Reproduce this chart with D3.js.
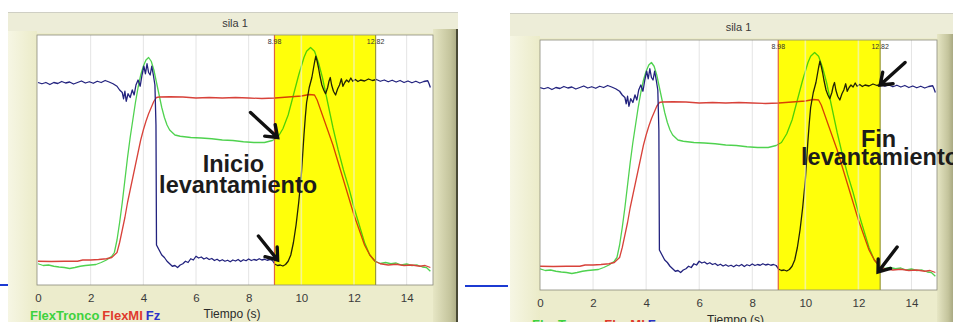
<!DOCTYPE html>
<html lang="es">
<head>
<meta charset="UTF-8">
<title>sila 1</title>
<script src="https://d3js.org/d3.v7.min.js"></script>
<style>
  * { margin: 0; padding: 0; }
  body { background: #fff; width: 953px; height: 322px; overflow: hidden; }
  svg { display: block; }
</style>
</head>
<body>
<svg id="chart" width="953" height="322"></svg>
<script>
// time (s) and signal values (0-100, share of the plot height)
var timeFz = [0, 0.15, 0.3, 0.45, 0.6, 0.75, 0.9, 1.05, 1.2, 1.35, 1.5, 1.65, 1.8, 1.95, 2.1, 2.25, 2.4, 2.55, 2.7, 2.85,
  3.0, 3.1, 3.2, 3.25, 3.3, 3.35, 3.42, 3.5, 3.58, 3.65, 3.72, 3.8, 3.88, 3.95, 4.02, 4.08, 4.14, 4.2, 4.26, 4.32, 4.38, 4.44, 4.48,
  4.5, 4.6, 4.7, 4.8, 4.9, 5.0, 5.1, 5.2, 5.3, 5.4, 5.5, 5.6, 5.7, 5.8, 5.9, 6.0, 6.1, 6.2, 6.3, 6.4, 6.5, 6.6, 6.7, 6.8, 6.9,
  7.0, 7.1, 7.2, 7.3, 7.4, 7.5, 7.6, 7.7, 7.8, 7.9, 8.0, 8.1, 8.2, 8.3, 8.4, 8.5, 8.6, 8.7, 8.8, 8.9, 9.0, 9.1, 9.2, 9.3, 9.4,
  9.5, 9.6, 9.7, 9.8, 9.9, 10.0, 10.05, 10.1, 10.15, 10.2, 10.3, 10.4, 10.45, 10.5, 10.55, 10.6, 10.65, 10.7, 10.78, 10.85, 10.92,
  11.0, 11.05, 11.1, 11.15, 11.22, 11.3, 11.38, 11.45, 11.52, 11.58, 11.65, 11.72, 11.8, 11.88, 11.95, 12.05, 12.15, 12.25, 12.4,
  12.55, 12.7, 12.85, 13.0, 13.15, 13.3, 13.45, 13.6, 13.75, 13.9, 14.05, 14.2, 14.35, 14.5, 14.65, 14.8, 14.85, 14.9];
var fz = [81, 80.5, 81, 80.2, 81, 80.6, 81.4, 80.8, 81.2, 80.4, 81, 81.6, 80.8, 81.3, 80.7, 81.5, 81, 81.8, 81.2, 80.5,
  79.5, 78, 77, 74.5, 77.5, 73.5, 76.5, 75, 78, 76, 80, 82, 79.5, 84, 87.5, 84.5, 88.5, 85, 84, 87.5, 84, 80, 64,
  16, 14, 12, 11, 9.5, 8.5, 7.5, 7.8, 7, 8, 8.5, 9.5, 9, 10.5, 10, 11.5, 10.8, 11.2, 10.4, 10.9, 10.2, 10.6, 9.8, 10.3, 9.6,
  10.1, 9.5, 9.9, 9.3, 10, 9.6, 10.2, 9.4, 10.1, 9.7, 10.4, 9.8, 10.2, 9.9, 10.5, 10, 10.3, 9.9, 10.2, 9.8, 8.3, 7.8, 8, 7.6, 8.2,
  9.5, 12, 17, 24, 33, 44, 52, 60, 67, 73, 79, 83, 86, 89, 91.5, 89.5, 87, 84, 80, 78, 76.5,
  79, 81.5, 83, 80, 77.5, 76, 78.5, 80, 82.5, 79.5, 81, 82, 81.2, 82.8, 81.5, 82.2, 81.4, 82, 81.6,
  82.4, 81.8, 82.2, 81.5, 82, 81.3, 81.9, 81.2, 81.8, 81, 81.6, 80.9, 81.5, 80.8, 81.4, 81.7, 80.5, 79];

var timeFlexMI = [0, 0.5, 1.0, 1.5, 1.7, 2.0, 2.3, 2.6, 2.8, 3.0, 3.1, 3.2, 3.3, 3.4, 3.5, 3.6, 3.7, 3.8, 3.9, 4.0, 4.1, 4.2, 4.3, 4.4,
  4.5, 4.6, 5.0, 5.5, 6.0, 6.5, 7.0, 7.5, 8.0, 8.5, 9.0, 9.5, 10.0, 10.3, 10.5, 10.6, 10.7, 10.8, 10.9, 11.0, 11.2, 11.4, 11.6,
  11.8, 12.0, 12.2, 12.4, 12.6, 12.8, 13.0, 13.3, 13.6, 13.9, 14.2, 14.5, 14.7, 14.9];
var flexMI = [9.5, 9.4, 9.5, 9.5, 10, 10, 10.2, 10.5, 11, 13, 17, 22, 27, 33, 38, 43, 48, 53, 58, 62, 65.5, 68.5, 71, 73.5,
  75, 75.2, 75.3, 75.2, 74.8, 75, 74.8, 75, 74.8, 74.6, 74.8, 75.2, 75.6, 76.2, 76, 74, 71, 68, 65, 62, 56, 49, 42,
  35, 28, 22, 16, 12, 9.5, 8.5, 8, 8.3, 7.8, 8, 7.5, 7.8, 7];

var timeFlexTronco = [0, 0.2, 0.4, 0.6, 0.8, 1.0, 1.2, 1.4, 1.6, 1.8, 2.0, 2.2, 2.4, 2.6, 2.8, 2.9, 3.0, 3.1, 3.2, 3.3, 3.4, 3.5,
  3.6, 3.7, 3.8, 3.9, 4.0, 4.1, 4.2, 4.3, 4.4, 4.5, 4.6, 4.7, 4.8, 4.9, 5.0, 5.2, 5.4, 5.8, 6.2, 6.6, 7.0, 7.4, 7.8, 8.2, 8.6,
  8.9, 9.1, 9.3, 9.5, 9.7, 9.9, 10.1, 10.2, 10.35, 10.5, 10.65, 10.8, 11.0, 11.2, 11.4, 11.6, 11.8, 12.0, 12.2, 12.4, 12.6,
  12.8, 13.0, 13.2, 13.4, 13.6, 13.8, 14.0, 14.2, 14.4, 14.6, 14.75, 14.9];
var flexTronco = [8.5, 7.8, 8, 7.5, 7.2, 7, 6.6, 7, 7.5, 7.8, 8, 8.2, 9, 10, 11.5, 13, 18, 25, 33, 42, 51, 59,
  66, 73, 79, 84, 87.5, 90, 91, 89.5, 86, 81, 76, 71, 67, 64, 62, 60, 59.5, 59, 58.8, 58.5, 58, 57.8, 57.3, 57, 57,
  57.8, 59, 62.5, 68, 76, 84, 91, 93.5, 95, 93.5, 89, 83, 73, 63, 54, 46, 39, 31, 24, 17, 12,
  9.5, 8.6, 9, 8.5, 8.8, 8, 8.4, 7.8, 8, 7.2, 7, 5.5];

var xTicks = [0, 2, 4, 6, 8, 10, 12, 14];
var gridTicks = [2, 4, 6, 8, 10, 12, 14];
var bandStart = 8.98;
var bandEnd = 12.82;
var bandLabels = ['8.98', '12.82'];
var seriesNames = ['FlexTronco', 'FlexMI', 'Fz'];

var COLORS = { FlexTronco: '#4fd24f', FlexMI: '#d8423a', Fz: '#22227e' };
var LEGEND_COLORS = { FlexTronco: '#3ed23e', FlexMI: '#e03a2c', Fz: '#2a32c8' };

var series = [
  { name: 'FlexTronco', t: timeFlexTronco, v: flexTronco },
  { name: 'FlexMI', t: timeFlexMI, v: flexMI },
  { name: 'Fz', t: timeFz, v: fz }
];

// two screenshots of the same recording, side by side
var panels = [
  { fx: 8, fy: 12, fw: 450, fh: 320, px0: 37, px1: 433, py0: 35, py1: 285, xr: [38, 433],
    titleY: 27, tickY: 303, axisTitleY: 318, legendX: 30, legendY: 320, darkEdge: true,
    arrows: [[8.07, 69, 9.1, 59], [8.37, 19.6, 9.1, 10]],
    notes: [{ text: 'Inicio', t: 7.42, v: 45.2, anchor: 'middle' },
            { text: 'levantamiento', t: 7.6, v: 36.8, anchor: 'middle' }] },
  { fx: 510, fy: 13, fw: 470, fh: 320, px0: 540, px1: 937, py0: 40, py1: 290, xr: [540, 938],
    titleY: 31, tickY: 308, axisTitleY: 324, legendX: 532, legendY: 329, darkEdge: false,
    arrows: [[13.76, 91, 12.82, 82], [13.46, 17.2, 12.74, 7.2]],
    notes: [{ text: 'Fin', t: 12.76, v: 57.2, anchor: 'middle' },
            { text: 'levantamiento', t: 9.84, v: 50.2, anchor: 'start' }] }
];

var svg = d3.select('#chart');
var defs = svg.append('defs');

var bevel = defs.append('linearGradient').attr('id', 'bevel').attr('x1', 0).attr('x2', 1).attr('y1', 0).attr('y2', 0);
bevel.append('stop').attr('offset', '0%').attr('stop-color', '#e6e6c4');
bevel.append('stop').attr('offset', '70%').attr('stop-color', '#c4c49c');
bevel.append('stop').attr('offset', '100%').attr('stop-color', '#a9a982');

var leftEdge = defs.append('linearGradient').attr('id', 'leftEdge').attr('x1', 0).attr('x2', 1).attr('y1', 0).attr('y2', 0);
leftEdge.append('stop').attr('offset', '0%').attr('stop-color', '#f6f6e4');
leftEdge.append('stop').attr('offset', '100%').attr('stop-color', '#ebebc8');

// slide underline bits between the screenshots
svg.append('line').attr('x1', 0).attr('x2', 13).attr('y1', 285).attr('y2', 285)
  .attr('stroke', '#1c3ad2').attr('stroke-width', 2);
svg.append('line').attr('x1', 465).attr('x2', 508).attr('y1', 286).attr('y2', 286)
  .attr('stroke', '#1c3ad2').attr('stroke-width', 2);

function drawArrow(g, tx, ty, hx, hy) {
  var a = Math.atan2(ty - hy, tx - hx);
  var len = 13, spread = 0.64;
  var b1 = [hx + len * Math.cos(a + spread), hy + len * Math.sin(a + spread)];
  var b2 = [hx + len * Math.cos(a - spread), hy + len * Math.sin(a - spread)];
  g.append('path')
    .attr('d', 'M' + tx + ',' + ty + 'L' + hx + ',' + hy + 'M' + b1[0] + ',' + b1[1] + 'L' + hx + ',' + hy + 'L' + b2[0] + ',' + b2[1])
    .attr('fill', 'none').attr('stroke', '#111').attr('stroke-width', 3.4)
    .attr('stroke-linejoin', 'miter').attr('stroke-linecap', 'round');
}

panels.forEach(function(p, i) {
  var g = svg.append('g');
  var x = d3.scaleLinear().domain([0, 15]).range(p.xr);
  var y = d3.scaleLinear().domain([0, 100]).range([p.py1, p.py0]);

  // window frame
  g.append('rect').attr('x', p.fx).attr('y', p.fy).attr('width', p.fw).attr('height', p.fh).attr('fill', '#ececcc');
  g.append('rect').attr('x', p.fx).attr('y', p.fy).attr('width', p.fw).attr('height', p.py0 - p.fy - 2).attr('fill', '#ededd8');
  g.append('line').attr('x1', p.fx).attr('x2', p.fx + p.fw).attr('y1', p.fy + 0.5).attr('y2', p.fy + 0.5)
    .attr('stroke', '#cfcfc4').attr('stroke-width', 1);
  g.append('rect').attr('x', p.fx).attr('y', p.py0 - 4).attr('width', p.px0 - p.fx).attr('height', p.fh).attr('fill', 'url(#leftEdge)');
  var bevelRight = p.darkEdge ? p.fx + p.fw : 953;
  g.append('rect').attr('x', p.px1).attr('y', p.py0 - 6).attr('width', bevelRight - p.px1).attr('height', p.fh)
    .attr('fill', 'url(#bevel)');
  if (p.darkEdge) {
    g.append('line').attr('x1', p.fx + p.fw - 1).attr('x2', p.fx + p.fw - 1).attr('y1', p.py0 - 6).attr('y2', 322)
      .attr('stroke', '#4a4a36').attr('stroke-width', 2);
  }

  // title
  g.append('text').attr('x', (p.px0 + p.px1) / 2).attr('y', p.titleY).attr('text-anchor', 'middle')
    .attr('font-family', 'Liberation Sans, Arial, sans-serif').attr('font-size', 11).attr('fill', '#3a3a3a')
    .text('sila 1');

  // plot area
  var clipId = 'clip' + i;
  defs.append('clipPath').attr('id', clipId).append('rect')
    .attr('x', p.px0).attr('y', p.py0).attr('width', p.px1 - p.px0).attr('height', p.py1 - p.py0);
  g.append('rect').attr('x', p.px0).attr('y', p.py0).attr('width', p.px1 - p.px0).attr('height', p.py1 - p.py0)
    .attr('fill', '#fff');

  var plot = g.append('g').attr('clip-path', 'url(#' + clipId + ')');

  plot.selectAll('line.grid').data(gridTicks).join('line').attr('class', 'grid')
    .attr('x1', function(d) { return x(d); }).attr('x2', function(d) { return x(d); })
    .attr('y1', p.py0).attr('y2', p.py1)
    .attr('stroke', '#e4e4e4').attr('stroke-width', 1);

  var line = d3.line().x(function(d) { return x(d[0]); }).y(function(d) { return y(d[1]); });
  series.forEach(function(s) {
    var pts = s.t.map(function(t, k) { return [t, s.v[k]]; });
    plot.append('path').datum(pts).attr('d', line)
      .attr('fill', 'none').attr('stroke', COLORS[s.name]).attr('stroke-width', 1.3)
      .attr('stroke-linejoin', 'round');
  });

  // selected interval, blended over the traces
  plot.append('rect').attr('x', x(bandStart)).attr('y', p.py0)
    .attr('width', x(bandEnd) - x(bandStart)).attr('height', p.py1 - p.py0)
    .attr('fill', '#ffff0a').style('mix-blend-mode', 'multiply');
  plot.selectAll('line.bandgrid').data(gridTicks.filter(function(d) { return d > bandStart && d < bandEnd; }))
    .join('line').attr('class', 'bandgrid')
    .attr('x1', function(d) { return x(d); }).attr('x2', function(d) { return x(d); })
    .attr('y1', p.py0).attr('y2', p.py1)
    .attr('stroke', 'rgba(255,255,255,0.55)').attr('stroke-width', 1.6);

  plot.append('line').attr('x1', x(bandStart)).attr('x2', x(bandStart)).attr('y1', p.py0).attr('y2', p.py1)
    .attr('stroke', '#e0643e').attr('stroke-width', 1.2);
  plot.append('line').attr('x1', x(bandEnd)).attr('x2', x(bandEnd)).attr('y1', p.py0).attr('y2', p.py1)
    .attr('stroke', '#9a9a3c').attr('stroke-width', 1.2);

  g.selectAll('text.cursor').data([bandStart, bandEnd]).join('text').attr('class', 'cursor')
    .attr('x', function(d) { return x(d); }).attr('y', p.py0 + 8.5).attr('text-anchor', 'middle')
    .attr('font-family', 'Liberation Sans, Arial, sans-serif').attr('font-size', 7).attr('fill', '#333')
    .text(function(d, k) { return bandLabels[k]; });

  g.append('rect').attr('x', p.px0).attr('y', p.py0).attr('width', p.px1 - p.px0).attr('height', p.py1 - p.py0)
    .attr('fill', 'none').attr('stroke', '#8a8a7a').attr('stroke-width', 0.8);

  // x axis
  var axis = d3.axisBottom(x).tickValues(xTicks).tickSize(0).tickPadding(0);
  var ax = g.append('g').attr('transform', 'translate(0,' + (p.tickY - 9) + ')').call(axis);
  ax.select('.domain').remove();
  ax.selectAll('text').attr('dy', '0.71em')
    .attr('font-family', 'Liberation Sans, Arial, sans-serif').attr('font-size', 11.5).attr('fill', '#3a3a3a');

  g.append('text').attr('x', (p.px0 + p.px1) / 2 - 3).attr('y', p.axisTitleY).attr('text-anchor', 'middle')
    .attr('font-family', 'Liberation Sans, Arial, sans-serif').attr('font-size', 12).attr('fill', '#2a2a2a')
    .text('Tiempo (s)');

  // legend
  var legend = g.append('text').attr('x', p.legendX).attr('y', p.legendY)
    .attr('font-family', 'Liberation Sans, Arial, sans-serif').attr('font-size', 13).attr('font-weight', 'bold');
  seriesNames.forEach(function(n, k) {
    legend.append('tspan').attr('fill', LEGEND_COLORS[n]).attr('dx', k ? 3 : 0).text(n);
  });

  // annotations
  p.arrows.forEach(function(a) { drawArrow(g, x(a[0]), y(a[1]), x(a[2]), y(a[3])); });
  p.notes.forEach(function(n) {
    g.append('text').attr('x', x(n.t)).attr('y', y(n.v)).attr('text-anchor', n.anchor)
      .attr('font-family', 'Liberation Sans, Arial, sans-serif').attr('font-size', 23.5).attr('font-weight', 'bold')
      .attr('fill', '#1c1c1c').text(n.text);
  });
});
</script>
</body>
</html>
